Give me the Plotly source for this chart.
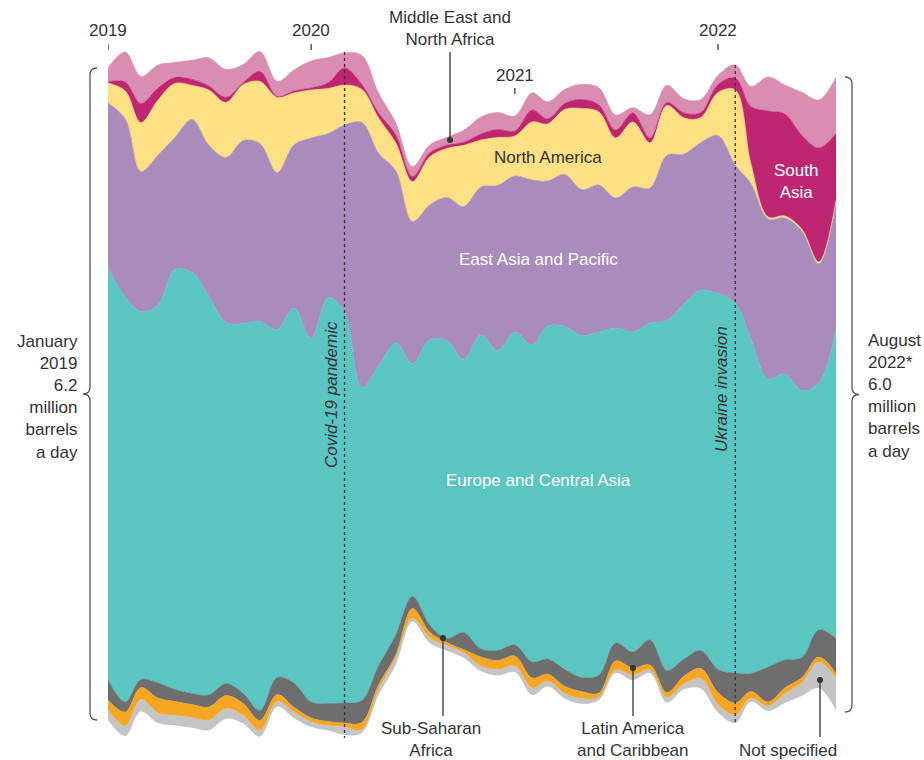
import numpy as np
import pandas as pd
import plotly.graph_objects as go

# Monthly Russian crude exports by destination, thousand barrels a day
months = pd.date_range("2019-01-01", "2022-08-01", freq="MS")

mena = [133,285,257,219,143,181,266,266,171,190,143,200,257,238,143,276,190,114,95,76,
        76,114,162,162,143,162,162,133,143,162,143,48,219,162,133,124,86,124,190,323,
        276,409,456,532]
south_asia = [10,86,181,114,57,57,38,48,19,95,10,19,19,57,162,48,48,76,48,38,
              29,29,57,76,48,114,48,57,86,67,76,86,48,29,48,48,76,114,542,1007,
              969,893,1083,637]
north_america = [190,266,466,523,513,323,523,523,532,589,713,494,456,428,380,314,333,266,380,456,
                 466,580,447,456,380,551,542,618,770,694,570,618,428,475,342,238,409,713,190,19,
                 19,19,19,19]
east_asia = [1568,1691,1330,1425,1254,1454,1435,1568,1739,1691,1492,1549,1900,1558,1777,2518,2024,1634,1349,1283,
             1359,1454,1406,1568,1482,1568,1378,1444,1387,1397,1235,1378,1283,1568,1425,1406,1501,1311,1473,1520,
             1482,1511,1131,1197]
europe = [3914,3848,3496,3591,3990,4000,3791,3430,3515,3696,3306,3563,3458,3857,3715,2974,2850,2774,2214,2708,
          2831,2594,2983,2850,2974,3012,3164,3259,3249,3259,2993,3040,3012,3325,3373,3420,3572,3515,3183,2736,
          2717,2537,2347,2945]
sub_saharan = [190,95,76,143,114,105,114,114,95,95,162,228,152,171,190,209,181,190,114,67,
               38,162,76,95,105,152,143,162,133,171,171,152,238,209,162,171,219,285,171,333,
               266,190,257,333]
latin_america = [95,133,114,143,133,124,124,124,114,95,67,48,38,38,38,67,48,29,95,57,
                 29,29,86,86,95,95,67,67,67,38,86,67,48,48,76,95,114,114,67,38,
                 57,48,48,48]
not_specified = [95,95,114,95,95,95,95,95,76,57,48,57,48,48,76,29,48,67,29,48,
                 48,48,48,57,57,67,48,48,48,29,29,48,29,48,48,95,76,76,29,48,
                 86,124,247,304]

year_ticks = ["2019-01-01", "2020-01-01", "2021-01-01", "2022-01-01"]
year_labels = ["2019", "2020", "2021", "2022"]

# layers bottom -> top
layers = [
    ("Not specified", not_specified, "#c4c4c4"),
    ("Latin America and Caribbean", latin_america, "#f5a623"),
    ("Sub-Saharan Africa", sub_saharan, "#6e6e6e"),
    ("Europe and Central Asia", europe, "#5bc5c2"),
    ("East Asia and Pacific", east_asia, "#a98bbc"),
    ("North America", north_america, "#fde083"),
    ("South Asia", south_asia, "#bf2672"),
    ("Middle East and North Africa", mena, "#d98db1"),
]

W, H = 924, 760
def X(p):
    return p / W
def Y(p):
    return 1 - p / H

total = np.sum([np.array(v, dtype=float) for _, v, _ in layers], axis=0)
baseline = -total / 2.0  # silhouette (centred) streamgraph offset

fig = go.Figure()
fig.add_trace(go.Scatter(x=months, y=baseline, stackgroup="s", fill="none", mode="lines",
                         line=dict(width=0, shape="spline"), hoverinfo="skip", showlegend=False))
for name, vals, col in layers:
    fig.add_trace(go.Scatter(x=months, y=vals, name=name, stackgroup="s", mode="lines",
                             fill="tonexty", fillcolor=col,
                             line=dict(width=0.6, color=col, shape="spline", smoothing=1.0),
                             showlegend=False))

px_per_unit = 9.5  # kb/d per pixel
fig.update_layout(
    width=W, height=H,
    margin=dict(l=0, r=0, t=0, b=0),
    paper_bgcolor="white", plot_bgcolor="white",
    showlegend=False,
    font=dict(family="Liberation Sans, Arial, sans-serif", size=17, color="#333333"),
    xaxis=dict(domain=[X(108), X(836)], range=[months[0], months[-1]], type="date",
               visible=False, fixedrange=True),
    yaxis=dict(domain=[Y(745), Y(40)],
               range=[-(745 - 394) * px_per_unit, (394 - 40) * px_per_unit],
               visible=False, fixedrange=True),
)

shapes = []
annotations = []

# year ticks and labels
for d, lab in zip(year_ticks, year_labels):
    if lab == "2021":
        ty, t0, t1 = 76, 88, 94
    else:
        ty, t0, t1 = 31, 44, 50
    shapes.append(dict(type="line", xref="x", yref="paper", x0=d, x1=d, y0=Y(t0), y1=Y(t1),
                       line=dict(color="#555555", width=1.5)))
    annotations.append(dict(text=lab, xref="x", yref="paper", x=d, y=Y(ty), showarrow=False,
                            xanchor="center", yanchor="middle", font=dict(size=17, color="#333333")))

# event lines
for d, y0, y1, lab, lx, ly in [("2020-03-01", 52, 738, "<i>Covid-19 pandemic</i>", 331, 395),
                               ("2022-02-01", 65, 722, "<i>Ukraine invasion</i>", 721, 389)]:
    shapes.append(dict(type="line", xref="x", yref="paper", x0=d, x1=d, y0=Y(y0), y1=Y(y1),
                       line=dict(color="#333333", width=1.3, dash="dot")))
    annotations.append(dict(text=lab, xref="paper", yref="paper", x=X(lx), y=Y(ly), textangle=-90,
                            showarrow=False, xanchor="center", yanchor="middle",
                            font=dict(size=17, color="#333333")))

# braces
def brace(xe, xm, xc, y0, y1, r):
    yc = (y0 + y1) / 2
    return (f"M {X(xe)},{Y(y0)} Q {X(xm)},{Y(y0)} {X(xm)},{Y(y0 + r)} "
            f"L {X(xm)},{Y(yc - r)} Q {X(xm)},{Y(yc)} {X(xc)},{Y(yc)} "
            f"Q {X(xm)},{Y(yc)} {X(xm)},{Y(yc + r)} L {X(xm)},{Y(y1 - r)} "
            f"Q {X(xm)},{Y(y1)} {X(xe)},{Y(y1)}")

shapes.append(dict(type="path", xref="paper", yref="paper", path=brace(97, 90, 83, 68, 720, 7),
                   line=dict(color="#555555", width=1.3)))
shapes.append(dict(type="path", xref="paper", yref="paper", path=brace(845, 852, 859, 77, 712, 7),
                   line=dict(color="#555555", width=1.3)))

annotations.append(dict(text="January<br>2019<br>6.2<br>million<br>barrels<br>a day",
                        xref="paper", yref="paper", x=X(80), y=Y(397), xanchor="right", yanchor="middle",
                        align="right", showarrow=False, font=dict(size=17, color="#333333")))
annotations.append(dict(text="August<br>2022*<br>6.0<br>million<br>barrels<br>a day",
                        xref="paper", yref="paper", x=X(866), y=Y(396), xanchor="left", yanchor="middle",
                        align="left", showarrow=False, font=dict(size=17, color="#333333")))

# in-stream labels
for txt, x, y, col in [("North America", 548, 157, "#333333"),
                       ("East Asia and Pacific", 538, 259, "white"),
                       ("Europe and Central Asia", 538, 480, "white"),
                       ("South<br>Asia", 796, 182, "white"),
                       ("Middle East and<br>North Africa", 450, 29, "#333333"),
                       ("Sub-Saharan<br>Africa", 431, 739, "#333333"),
                       ("Latin America<br>and Caribbean", 633, 739, "#333333"),
                       ("Not specified", 788, 750, "#333333")]:
    annotations.append(dict(text=txt, xref="paper", yref="paper", x=X(x), y=Y(y), showarrow=False,
                            xanchor="center", yanchor="middle", align="center",
                            font=dict(size=17, color=col)))

# pointer lines with dots
for x, ya, yb in [(450, 52, 140), (443, 716, 638), (633, 716, 668), (820, 737, 680)]:
    shapes.append(dict(type="line", xref="paper", yref="paper", x0=X(x), x1=X(x), y0=Y(ya), y1=Y(yb),
                       line=dict(color="#333333", width=1.3)))
    shapes.append(dict(type="circle", xref="paper", yref="paper", x0=X(x - 3), x1=X(x + 3),
                       y0=Y(yb + 3), y1=Y(yb - 3), fillcolor="#333333", line=dict(width=0)))

fig.update_layout(shapes=shapes, annotations=annotations)
fig.write_html("out.html",
               config={"displayModeBar": False, "staticPlot": True},
               post_script="document.body.style.margin='0px';document.body.style.overflow='hidden';")
